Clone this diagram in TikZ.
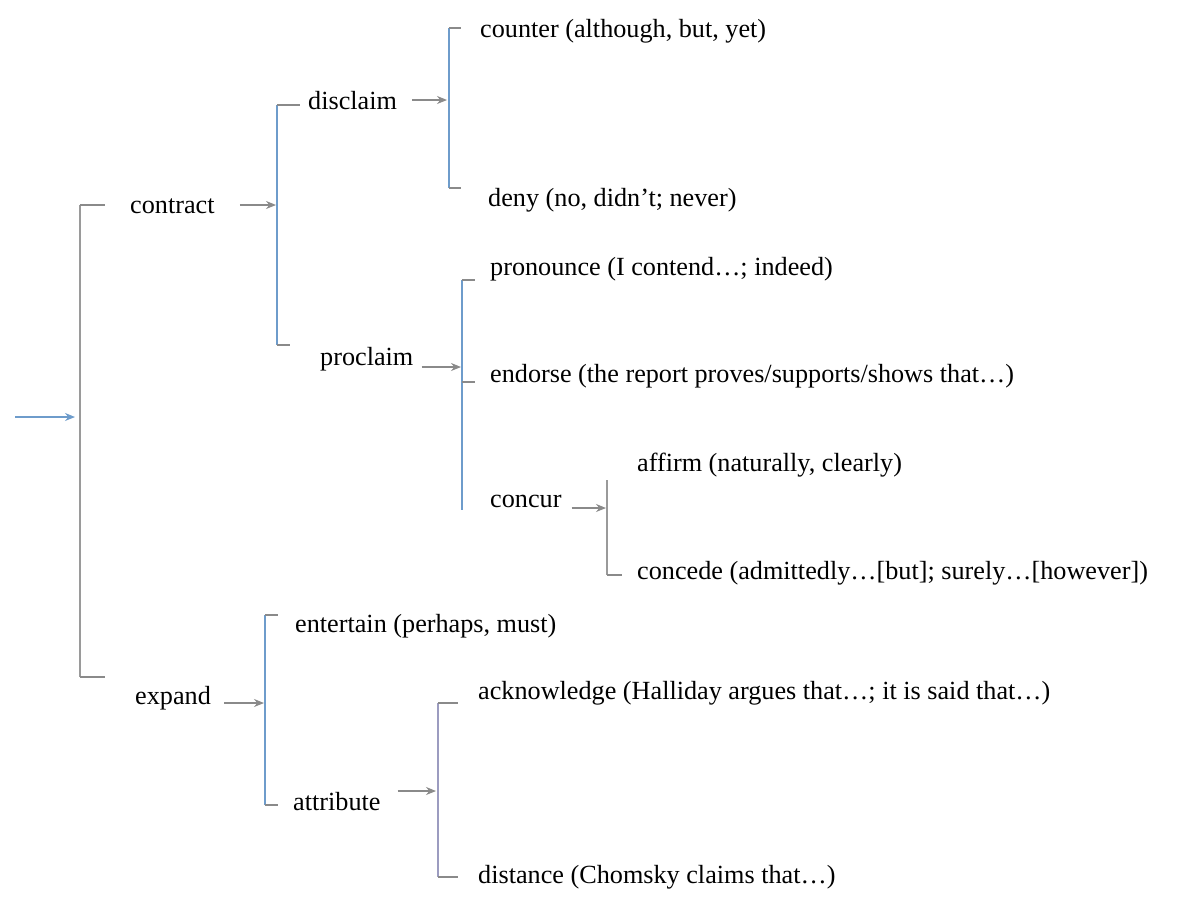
\documentclass[tikz,border=0pt]{standalone}
\usepackage{fontspec}
\setmainfont{Liberation Serif}
\usetikzlibrary{arrows.meta}
\definecolor{brblue}{HTML}{6E9CCB}
\definecolor{tickgray}{HTML}{8A8A8A}
\definecolor{brgray}{HTML}{9A9A9A}
\definecolor{brpurple}{HTML}{9C9CC0}
\tikzset{
  lbl/.style={anchor=west, inner sep=0pt, font=\fontsize{26.2}{30}\selectfont},
  vline/.style={draw=brblue, line width=1.1pt},
  tick/.style={draw=tickgray, line width=1.1pt},
  arr/.style={draw=tickgray, line width=1.1pt, -{Stealth[length=10pt,width=8pt]}},
  entry/.style={draw=brblue, line width=1.3pt, -{Stealth[length=10pt,width=8pt]}}
}
\begin{document}
\begin{tikzpicture}[x=1pt,y=-1pt]
\useasboundingbox (0,0) rectangle (1181,908);
% labels
\node[lbl] (contract) at (130,206) {contract};
\node[lbl] (expand) at (135,698) {expand};
\node[lbl] (disclaim) at (308,101) {disclaim};
\node[lbl] (proclaim) at (320,359) {proclaim};
\node[lbl] (counter) at (480,31) {counter (although, but, yet)};
\node[lbl] (deny) at (488,200) {deny (no, didn’t; never)};
\node[lbl] (pronounce) at (490,269) {pronounce (I contend…; indeed)};
\node[lbl] (endorse) at (490,376) {endorse (the report proves/supports/shows that…)};
\node[lbl] (concur) at (490,501) {concur};
\node[lbl] (affirm) at (637,465) {affirm (naturally, clearly)};
\node[lbl] (concede) at (637,573) {concede (admittedly…[but]; surely…[however])};
\node[lbl] (entertain) at (295,626) {entertain (perhaps, must)};
\node[lbl] (attribute) at (293,802) {attribute};
\node[lbl] (acknowledge) at (478,693) {acknowledge (Halliday argues that…; it is said that…)};
\node[lbl] (distance) at (478,877) {distance (Chomsky claims that…)};
% bracket coordinates
\coordinate (start) at (15,417);
\coordinate (b1) at (80,417);
\coordinate (b2) at (277,205);
\coordinate (b3) at (449,100);
\coordinate (b4) at (462,367);
\coordinate (b5) at (607,508);
\coordinate (b6) at (265,703);
\coordinate (b7) at (438,791);
% bracket 1
\draw[vline, draw=brgray] (80,205) -- (80,677);
\draw[tick] (80,205) -- (105,205);
\draw[tick] (80,677) -- (105,677);
% bracket 2
\draw[vline] (277,105) -- (277,345);
\draw[tick] (277,105) -- (300,105);
\draw[tick] (277,345) -- (290,345);
% bracket 3
\draw[vline] (449,28) -- (449,188);
\draw[tick] (449,28) -- (461,28);
\draw[tick] (449,188) -- (461,188);
% bracket 4
\draw[vline] (462,280) -- (462,510);
\draw[tick] (462,280) -- (475,280);
\draw[tick] (462,382) -- (475,382);
% bracket 5
\draw[vline, draw=brgray] (607,480) -- (607,575);
\draw[tick] (607,575) -- (622,575);
% bracket 6
\draw[vline] (265,615) -- (265,805);
\draw[tick] (265,615) -- (278,615);
\draw[tick] (265,805) -- (278,805);
% bracket 7
\draw[vline, draw=brpurple] (438,703) -- (438,877);
\draw[tick] (438,703) -- (458,703);
\draw[tick] (438,877) -- (458,877);
% arrows
\draw[entry] (start) -- ([xshift=-5pt]b1);
\draw[arr] ([xshift=25pt]contract.east |- b2) -- ([xshift=-1pt]b2);
\draw[arr] ([xshift=15pt]disclaim.east |- b3) -- ([xshift=-2pt]b3);
\draw[arr] ([xshift=8pt]proclaim.east |- b4) -- ([xshift=-1pt]b4);
\draw[arr] ([xshift=10pt]concur.east |- b5) -- ([xshift=-1pt]b5);
\draw[arr] ([xshift=13pt]expand.east |- b6) -- ([xshift=-1pt]b6);
\draw[arr] ([xshift=17pt]attribute.east |- b7) -- ([xshift=-2pt]b7);
\end{tikzpicture}
\end{document}
